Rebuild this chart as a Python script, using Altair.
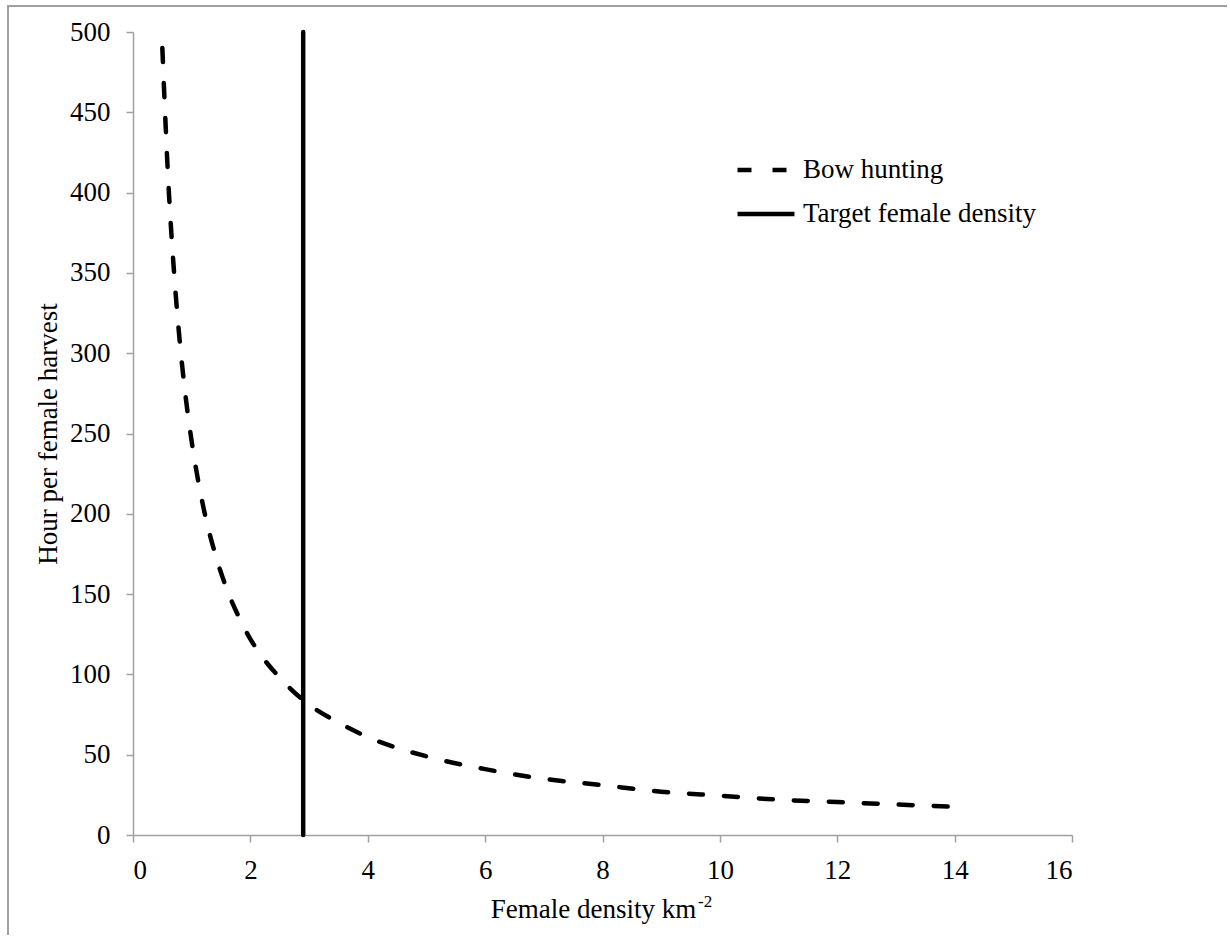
import altair as alt
import pandas as pd

# Bow hunting curve
density = [0.5, 0.6, 0.7, 0.8, 0.9, 1.0, 1.2, 1.4, 1.6, 1.8, 2.0, 2.2, 2.5, 2.9,
           3.5, 4.0, 5.0, 6.0, 7.0, 8.0, 9.0, 10.0, 11.0, 12.0, 13.0, 14.0]
hours = [490, 408, 350, 306, 272, 245, 204, 175, 153, 136, 122, 111, 98, 84,
         70, 61, 49, 41, 35, 31, 27, 24.5, 22, 20.5, 19, 17.5]

# Target female density (vertical line)
target_x = [2.9, 2.9]
target_y = [0, 500]

series_names = ["Bow hunting", "Target female density"]
x_ticks = [0, 2, 4, 6, 8, 10, 12, 14, 16]
y_ticks = [0, 50, 100, 150, 200, 250, 300, 350, 400, 450, 500]
x_title = "Female density km"
x_title_sup = "-2"

rows = []
for i, (x, y) in enumerate(zip(density, hours)):
    rows.append({"x": x, "y": y, "series": series_names[0], "order": i})
for i, (x, y) in enumerate(zip(target_x, target_y)):
    rows.append({"x": x, "y": y, "series": series_names[1], "order": i})
df = pd.DataFrame(rows)

FONT = "Liberation Serif"
FS = 27

legend_kw = dict(title=None, orient="none", legendX=602, legendY=107,
                 symbolType="stroke", symbolSize=3249, symbolStrokeWidth=4.5,
                 labelFont=FONT, labelFontSize=FS, labelColor="black",
                 labelOffset=6, rowPadding=0, labelLimit=400)

lines = alt.Chart(df).mark_line(strokeWidth=4.5, interpolate="monotone", strokeCap="round").encode(
    x=alt.X("x:Q", scale=alt.Scale(domain=[0, 16], nice=False),
            axis=alt.Axis(values=x_ticks, title=x_title,
                          titleX=460, titleY=82, titleBaseline="alphabetic")),
    y=alt.Y("y:Q", scale=alt.Scale(domain=[0, 500], nice=False),
            axis=alt.Axis(values=y_ticks, title="Hour per female harvest",
                          titleX=-85, titleY=401.5, titleBaseline="middle")),
    order="order:Q",
    color=alt.Color("series:N", scale=alt.Scale(domain=series_names, range=["black", "black"]),
                    legend=alt.Legend(**legend_kw)),
    strokeDash=alt.StrokeDash("series:N", scale=alt.Scale(domain=series_names, range=[[14, 21], [1, 0]]),
                              legend=alt.Legend(**legend_kw)),
)

sup = alt.Chart(pd.DataFrame({"t": [x_title_sup]})).mark_text(
    font=FONT, fontSize=17, align="left", baseline="alphabetic", color="black"
).encode(text="t:N", x=alt.value(565), y=alt.value(875))

frame = alt.Chart(pd.DataFrame({"a": [0]})).mark_rect(
    filled=False, stroke="#a0a0a0", strokeWidth=2
).encode(x=alt.value(-125), x2=alt.value(1120), y=alt.value(-26), y2=alt.value(930))

chart = alt.layer(frame, lines, sup).properties(
    width=939, height=803,
    autosize=alt.AutoSizeParams(type="none"),
    padding={"left": 133, "top": 32, "right": 155, "bottom": 100},
).configure_view(stroke=None).configure_axis(
    grid=False, domainColor="#a0a0a0", domainWidth=1.5, tickColor="#a0a0a0", tickWidth=1.5,
    tickSize=7, labelFont=FONT, labelFontSize=FS, labelColor="black", titleFont=FONT,
    titleFontSize=FS, titleFontWeight="normal", titleColor="black", labelPadding=15,
).configure_axisY(labelPadding=16)

chart.save("out.html", embed_options={"renderer": "svg", "actions": False})
